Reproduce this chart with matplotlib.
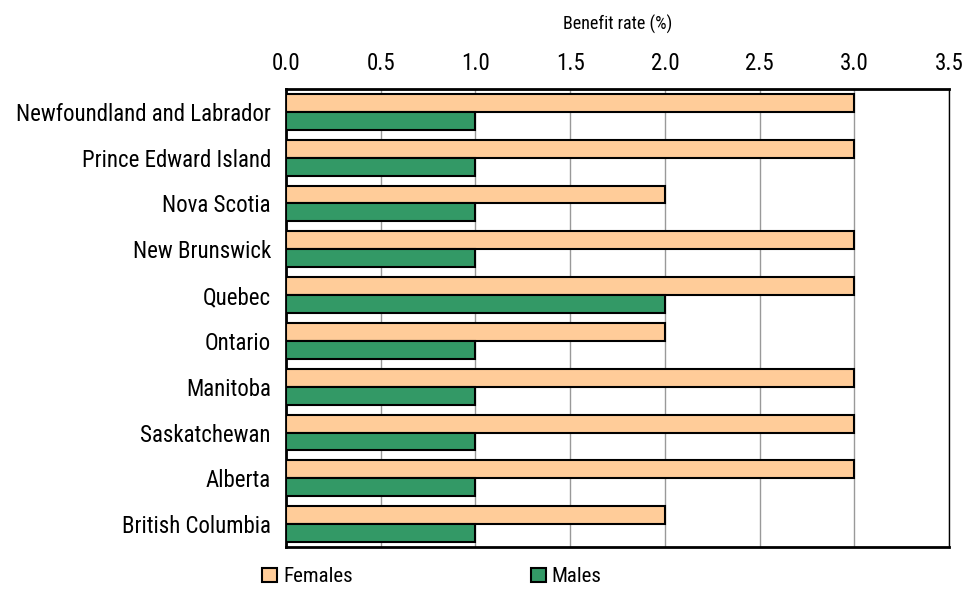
import matplotlib
matplotlib.use("Agg")
import matplotlib.pyplot as plt
import numpy as np

plt.rcParams['font.family'] = ['Roboto Condensed', 'DejaVu Sans']

provinces = ['Newfoundland and Labrador', 'Prince Edward Island', 'Nova Scotia',
             'New Brunswick', 'Quebec', 'Ontario', 'Manitoba', 'Saskatchewan',
             'Alberta', 'British Columbia']
females = [3, 3, 2, 3, 3, 2, 3, 3, 3, 2]
males = [1, 1, 1, 1, 2, 1, 1, 1, 1, 1]

fig = plt.figure(figsize=(9.67, 5.92), dpi=100)
ax = fig.add_axes([0.2958, 0.076, 0.6856, 0.7737])

y = np.arange(len(provinces))
h = 0.39
ax.barh(y - h / 2, females, height=h, color='#FFCC99', edgecolor='black', linewidth=1.5,
        label='Females', zorder=3)
ax.barh(y + h / 2, males, height=h, color='#339966', edgecolor='black', linewidth=1.5,
        label='Males', zorder=3)

ax.set_ylim(len(provinces) - 0.5, -0.5)
ax.set_yticks(y)
ax.set_yticklabels(provinces, fontsize=16.5)
ax.set_xlim(0, 3.5)
ax.set_xticks(np.arange(0, 3.51, 0.5))
ax.set_xticklabels([f"{v:.1f}" for v in np.arange(0, 3.51, 0.5)], fontsize=16.5)
ax.xaxis.tick_top()
ax.xaxis.set_label_position('top')
ax.set_xlabel('Benefit rate (%)', fontsize=13, labelpad=16)
ax.tick_params(axis='x', length=0, pad=10)
ax.tick_params(axis='y', length=0, pad=11)
ax.grid(axis='x', color='#999999', linewidth=1, zorder=0)

for s in ['left', 'top', 'bottom']:
    ax.spines[s].set_linewidth(2)
ax.spines['right'].set_linewidth(1)

fig.legend(loc='lower left', bbox_to_anchor=(0.252, -0.022), ncol=2, frameon=False,
           fontsize=15, handlelength=0.7, handleheight=0.7, handletextpad=0.3,
           columnspacing=8.55)

fig.savefig('out.png', dpi=100)
